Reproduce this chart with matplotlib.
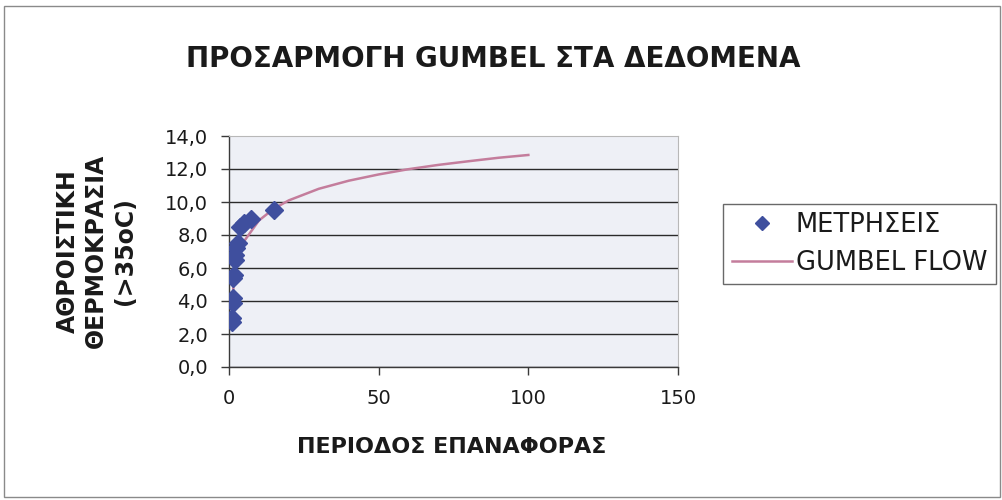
import matplotlib
matplotlib.use("Agg")
import matplotlib.pyplot as plt
from matplotlib.patches import Rectangle
from matplotlib.lines import Line2D
from matplotlib.ticker import FuncFormatter

plt.rcParams['font.family'] = ['DejaVu Sans']

# Measured return periods (years) and cumulative temperature values
period_obs = [15.0, 7.5, 5.0, 3.75, 3.0, 2.5, 2.14, 1.875, 1.67, 1.5, 1.36, 1.25, 1.15, 1.07]
temp_obs = [9.5, 9.0, 8.7, 8.5, 7.5, 7.2, 6.8, 6.5, 5.6, 5.4, 4.2, 3.9, 3.0, 2.7]

# Fitted Gumbel curve
period_fit = [1.2, 1.5, 2, 3, 5, 10, 15, 20, 30, 40, 50, 60, 70, 80, 90, 100]
temp_fit = [4.09, 4.92, 5.70, 6.61, 7.61, 8.88, 9.60, 10.10, 10.80, 11.29, 11.67,
            11.99, 12.25, 12.47, 12.68, 12.85]

x_ticks = [0, 50, 100, 150]
y_ticks = [0, 2, 4, 6, 8, 10, 12, 14]

title = "ΠΡΟΣΑΡΜΟΓΗ GUMBEL ΣΤΑ ΔΕΔΟΜΕΝΑ"
x_label = "ΠΕΡΙΟΔΟΣ ΕΠΑΝΑΦΟΡΑΣ"
y_label = "ΑΘΡΟΙΣΤΙΚΗ\nΘΕΡΜΟΚΡΑΣΙΑ\n(>35oC)"
legend_labels = ["ΜΕΤΡΗΣΕΙΣ", "GUMBEL FLOW"]

marker_color = "#3f4f9e"
line_color = "#c47d9c"
text_color = "#1a1a1a"

fig = plt.figure(figsize=(10.03, 5.0), dpi=100)
fig.patch.set_facecolor("white")

# chart frame
fig.add_artist(Rectangle((0.004, 0.006), 0.993, 0.982, transform=fig.transFigure,
                         fill=False, edgecolor="#8a8a8a", linewidth=1.0))

ax = fig.add_axes([0.2283, 0.266, 0.4477, 0.462])
ax.set_facecolor("#eef0f6")
ax.set_xlim(0, 150)
ax.set_ylim(0, 14)
ax.set_xticks(x_ticks)
ax.set_yticks(y_ticks)
ax.yaxis.set_major_formatter(FuncFormatter(lambda v, p: f"{v:.1f}".replace(".", ",")))

ax.grid(axis="y", color="#2a2a2a", linewidth=1.0)
ax.yaxis.get_gridlines()[-1].set_visible(False)
ax.set_axisbelow(True)
for side in ("top", "right"):
    ax.spines[side].set_color("#b8b8b8")
    ax.spines[side].set_linewidth(0.8)
for side in ("left", "bottom"):
    ax.spines[side].set_color("#3a3a3a")
    ax.spines[side].set_linewidth(1.0)

ax.tick_params(axis="both", direction="out", length=6, width=1.0, color="#3a3a3a",
               labelsize=14, labelcolor=text_color)
ax.tick_params(axis="x", pad=10)
ax.tick_params(axis="y", pad=9)

ax.plot(period_fit, temp_fit, color=line_color, linewidth=1.8, zorder=3)
ax.plot(period_obs, temp_obs, linestyle="none", marker="D", markersize=9.5,
        color=marker_color, markeredgecolor=marker_color, zorder=4)

fig.text(0.492, 0.882, title, ha="center", va="center", fontsize=20,
         fontweight="bold", color=text_color)
fig.text(0.450, 0.106, x_label, ha="center", va="center", fontsize=16,
         fontweight="bold", color=text_color)
fig.text(0.096, 0.498, y_label, ha="center", va="center", rotation=90, fontsize=17,
         fontweight="bold", color=text_color, linespacing=1.25)

handles = [Line2D([], [], linestyle="none", marker="D", markersize=7, color=marker_color),
           Line2D([], [], color=line_color, linewidth=1.8)]
leg = fig.legend(handles, legend_labels, loc="center left",
                 bbox_to_anchor=(0.721, 0.512), frameon=True, fancybox=False,
                 fontsize=18.5, handlelength=2.35, handletextpad=0.15,
                 borderpad=0.33, labelspacing=0.45, borderaxespad=0)
leg.get_frame().set_edgecolor("#444444")
leg.get_frame().set_linewidth(1.0)
for t in leg.get_texts():
    t.set_color(text_color)

fig.savefig("out.png", dpi=100, facecolor="white")
